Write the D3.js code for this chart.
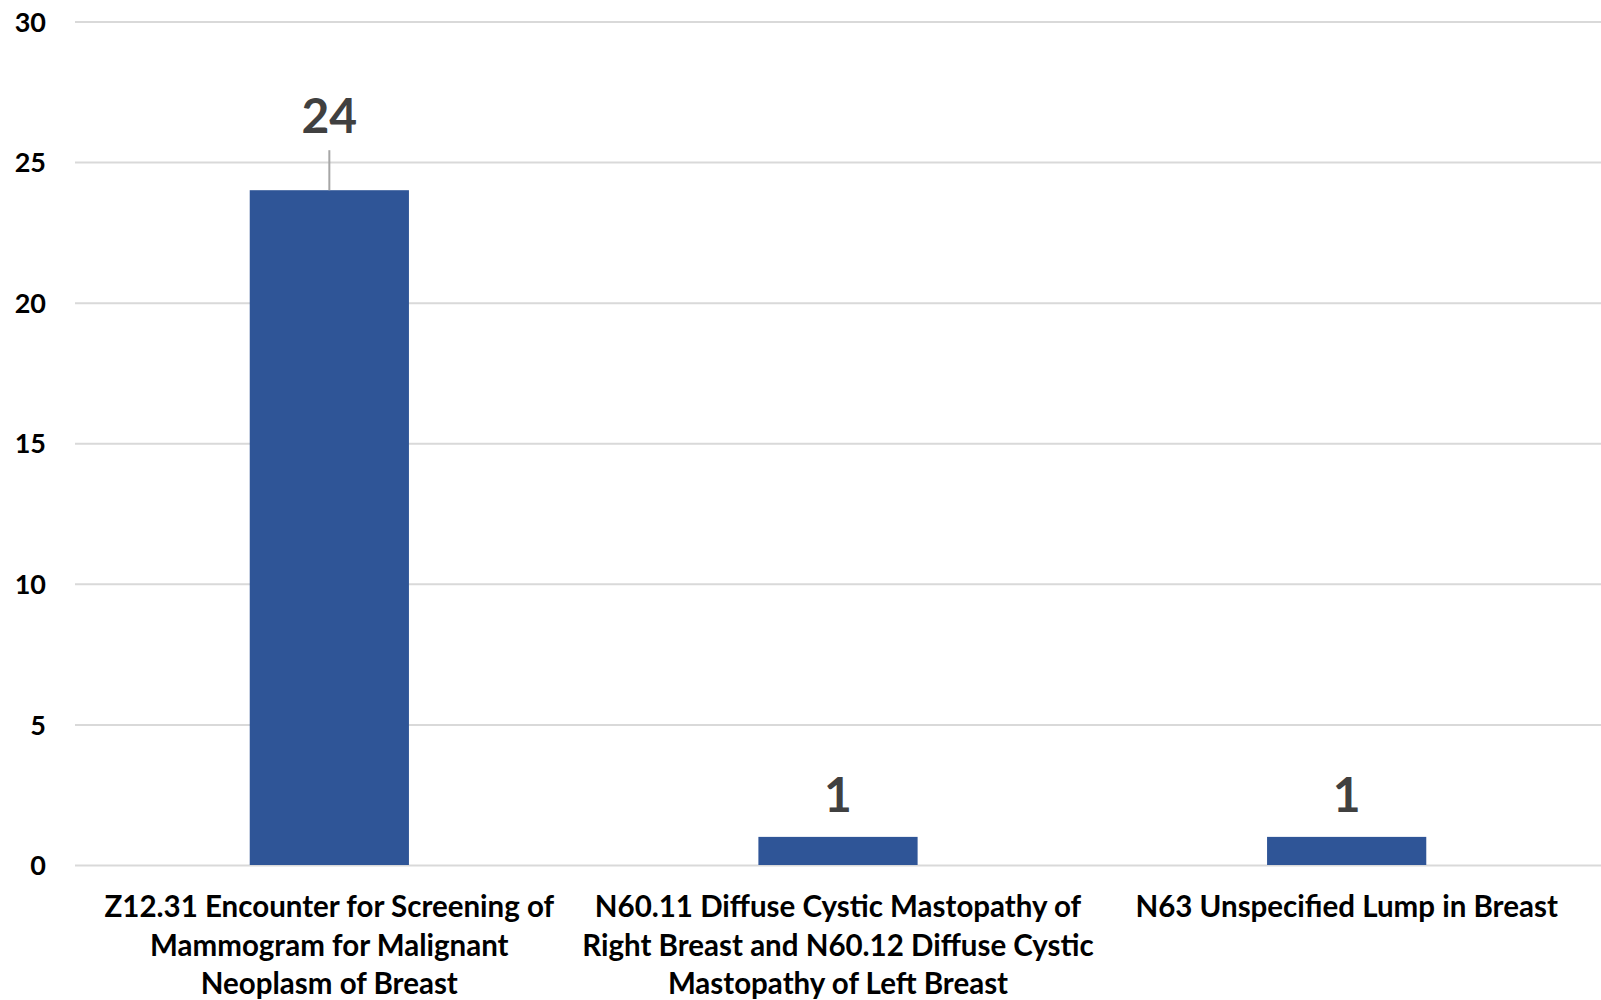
<!DOCTYPE html>
<html>
<head>
<meta charset="utf-8">
<script src="https://cdn.jsdelivr.net/npm/d3@7"></script>
<style>
  html, body { margin: 0; padding: 0; background: #fff; }
  svg { display: block; }
  text { font-family: Lato, "Open Sans", sans-serif; font-weight: bold; }
</style>
</head>
<body>
<svg id="chart" width="1601" height="1000"></svg>
<script>
const categories = [
  "Z12.31 Encounter for Screening of Mammogram for Malignant Neoplasm of Breast",
  "N60.11 Diffuse Cystic Mastopathy of Right Breast and N60.12 Diffuse Cystic Mastopathy of Left Breast",
  "N63 Unspecified Lump in Breast"
];
const categoryLines = [
  ["Z12.31 Encounter for Screening of", "Mammogram for Malignant", "Neoplasm of Breast"],
  ["N60.11 Diffuse Cystic Mastopathy of", "Right Breast and N60.12 Diffuse Cystic", "Mastopathy of Left Breast"],
  ["N63 Unspecified Lump in Breast"]
];
const values = [24, 1, 1];
const yTicks = [0, 5, 10, 15, 20, 25, 30];

const W = 1601, H = 1000;
const margin = { left: 75, right: 0, top: 21.5, bottom: 135 };
const svg = d3.select("#chart");

const x = d3.scaleBand().domain(categories).range([margin.left, W - margin.right]).padding(0);
const y = d3.scaleLinear().domain([0, 30]).range([H - margin.bottom, margin.top]);
const barW = x.bandwidth() * 0.313;

// gridlines
const yAxis = d3.axisLeft(y).tickValues(yTicks).tickSize(-(W - margin.left - margin.right)).tickPadding(29).tickFormat(d3.format("d"));
const gy = svg.append("g").attr("transform", `translate(${margin.left},0)`).call(yAxis);
gy.select(".domain").remove();
gy.selectAll(".tick line").attr("stroke", "#d9d9d9").attr("stroke-width", 2);
gy.selectAll(".tick text")
  .attr("fill", "#000")
  .attr("font-size", 27)
  .attr("dy", "0.36em")
  .style("font-family", "Lato, 'Open Sans', sans-serif")
  .style("font-weight", "bold");

// bars
svg.append("g").selectAll("rect").data(values).join("rect")
  .attr("x", (d, i) => x(categories[i]) + x.bandwidth() / 2 - barW / 2)
  .attr("width", barW)
  .attr("y", d => y(d))
  .attr("height", d => y(0) - y(d))
  .attr("fill", "#2F5597");

// data labels
const labelOffset = v => (v > 20 ? 57 : 25);
svg.append("g").selectAll("line").data(values.filter(v => v > 20)).join("line")
  .attr("x1", (d) => x(categories[values.indexOf(d)]) + x.bandwidth() / 2)
  .attr("x2", (d) => x(categories[values.indexOf(d)]) + x.bandwidth() / 2)
  .attr("y1", d => y(d))
  .attr("y2", d => y(d) - 40)
  .attr("stroke", "#a6a6a6").attr("stroke-width", 2);

svg.append("g").selectAll("text").data(values).join("text")
  .attr("x", (d, i) => x(categories[i]) + x.bandwidth() / 2)
  .attr("y", d => y(d) - labelOffset(d))
  .attr("text-anchor", "middle")
  .attr("font-size", 48)
  .attr("fill", "#404040")
  .text(d => d);

// category labels
const cl = svg.append("g").selectAll("text").data(categories).join("text")
  .attr("text-anchor", "middle")
  .attr("font-size", 29.5)
  .attr("fill", "#000");
cl.each(function(c, i) {
  const t = d3.select(this);
  categoryLines[i].forEach((ln, j) => {
    t.append("tspan")
      .attr("x", x(c) + x.bandwidth() / 2)
      .attr("y", 916.7 + j * 38.8)
      .text(ln);
  });
});
</script>
</body>
</html>
